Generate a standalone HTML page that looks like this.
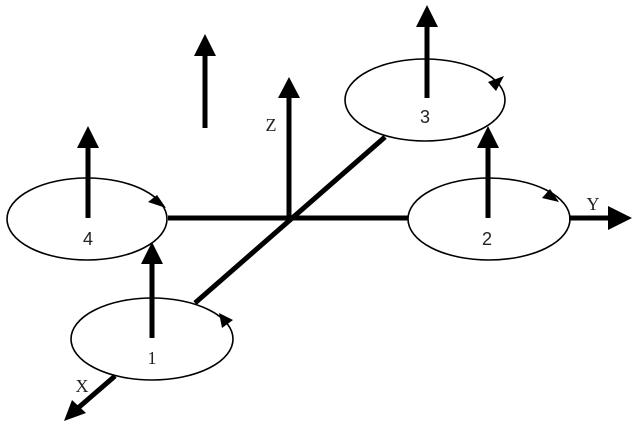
<!DOCTYPE html>
<html><head><style>body{margin:0;background:#fff}svg{display:block}</style></head><body>
<svg width="642" height="433" viewBox="0 0 642 433" xmlns="http://www.w3.org/2000/svg" font-family="Liberation Serif, serif">
<g fill="none" stroke="#000" stroke-width="1.6">
<ellipse cx="87" cy="219" rx="80" ry="41"/>
<ellipse cx="152" cy="339" rx="81" ry="41"/>
<ellipse cx="425" cy="100" rx="80" ry="41"/>
<ellipse cx="489" cy="219" rx="81" ry="41"/>
</g>
<g stroke="#000" stroke-width="5" fill="none">
<line x1="168" y1="218" x2="408" y2="218"/>
<line x1="569" y1="218" x2="612" y2="218"/>
<line x1="385" y1="137" x2="195" y2="303"/>
<line x1="115" y1="376" x2="78" y2="408"/>
<line x1="289" y1="218" x2="289" y2="96"/>
<line x1="205" y1="128" x2="205" y2="54"/>
<line x1="88" y1="218" x2="88" y2="146"/>
<line x1="152" y1="338" x2="152" y2="262"/>
<line x1="427" y1="98" x2="427" y2="25"/>
<line x1="488" y1="218" x2="488" y2="146"/>
</g>
<g fill="#000">
<polygon points="632,218 608,206 608,230"/>
<polygon points="64,421 72,400 86,413"/>
<polygon points="289,77 278,98 300,98"/>
<polygon points="205,34 194,56 216,56"/>
<polygon points="88,126 77,148 99,148"/>
<polygon points="152,242 141,264 163,264"/>
<polygon points="427,5 416,27 438,27"/>
<polygon points="488,126 477,148 499,148"/>
<polygon points="166,208 148,202 157,195"/>
<polygon points="219,313 233,320 222,328"/>
<polygon points="504,76 496,91 488,82"/>
<polygon points="559,202 542,198 550,189"/>
</g>
<g font-size="18" text-anchor="middle" fill="#222">
<text x="271" y="131">Z</text>
<text x="593" y="210">Y</text>
<text x="82" y="392">X</text>
<text x="88" y="245" font-family="Liberation Sans, sans-serif">4</text>
<text x="152" y="364">1</text>
<text x="425" y="123" font-family="Liberation Sans, sans-serif">3</text>
<text x="487" y="245" font-family="Liberation Sans, sans-serif">2</text>
</g>
</svg>
</body></html>
